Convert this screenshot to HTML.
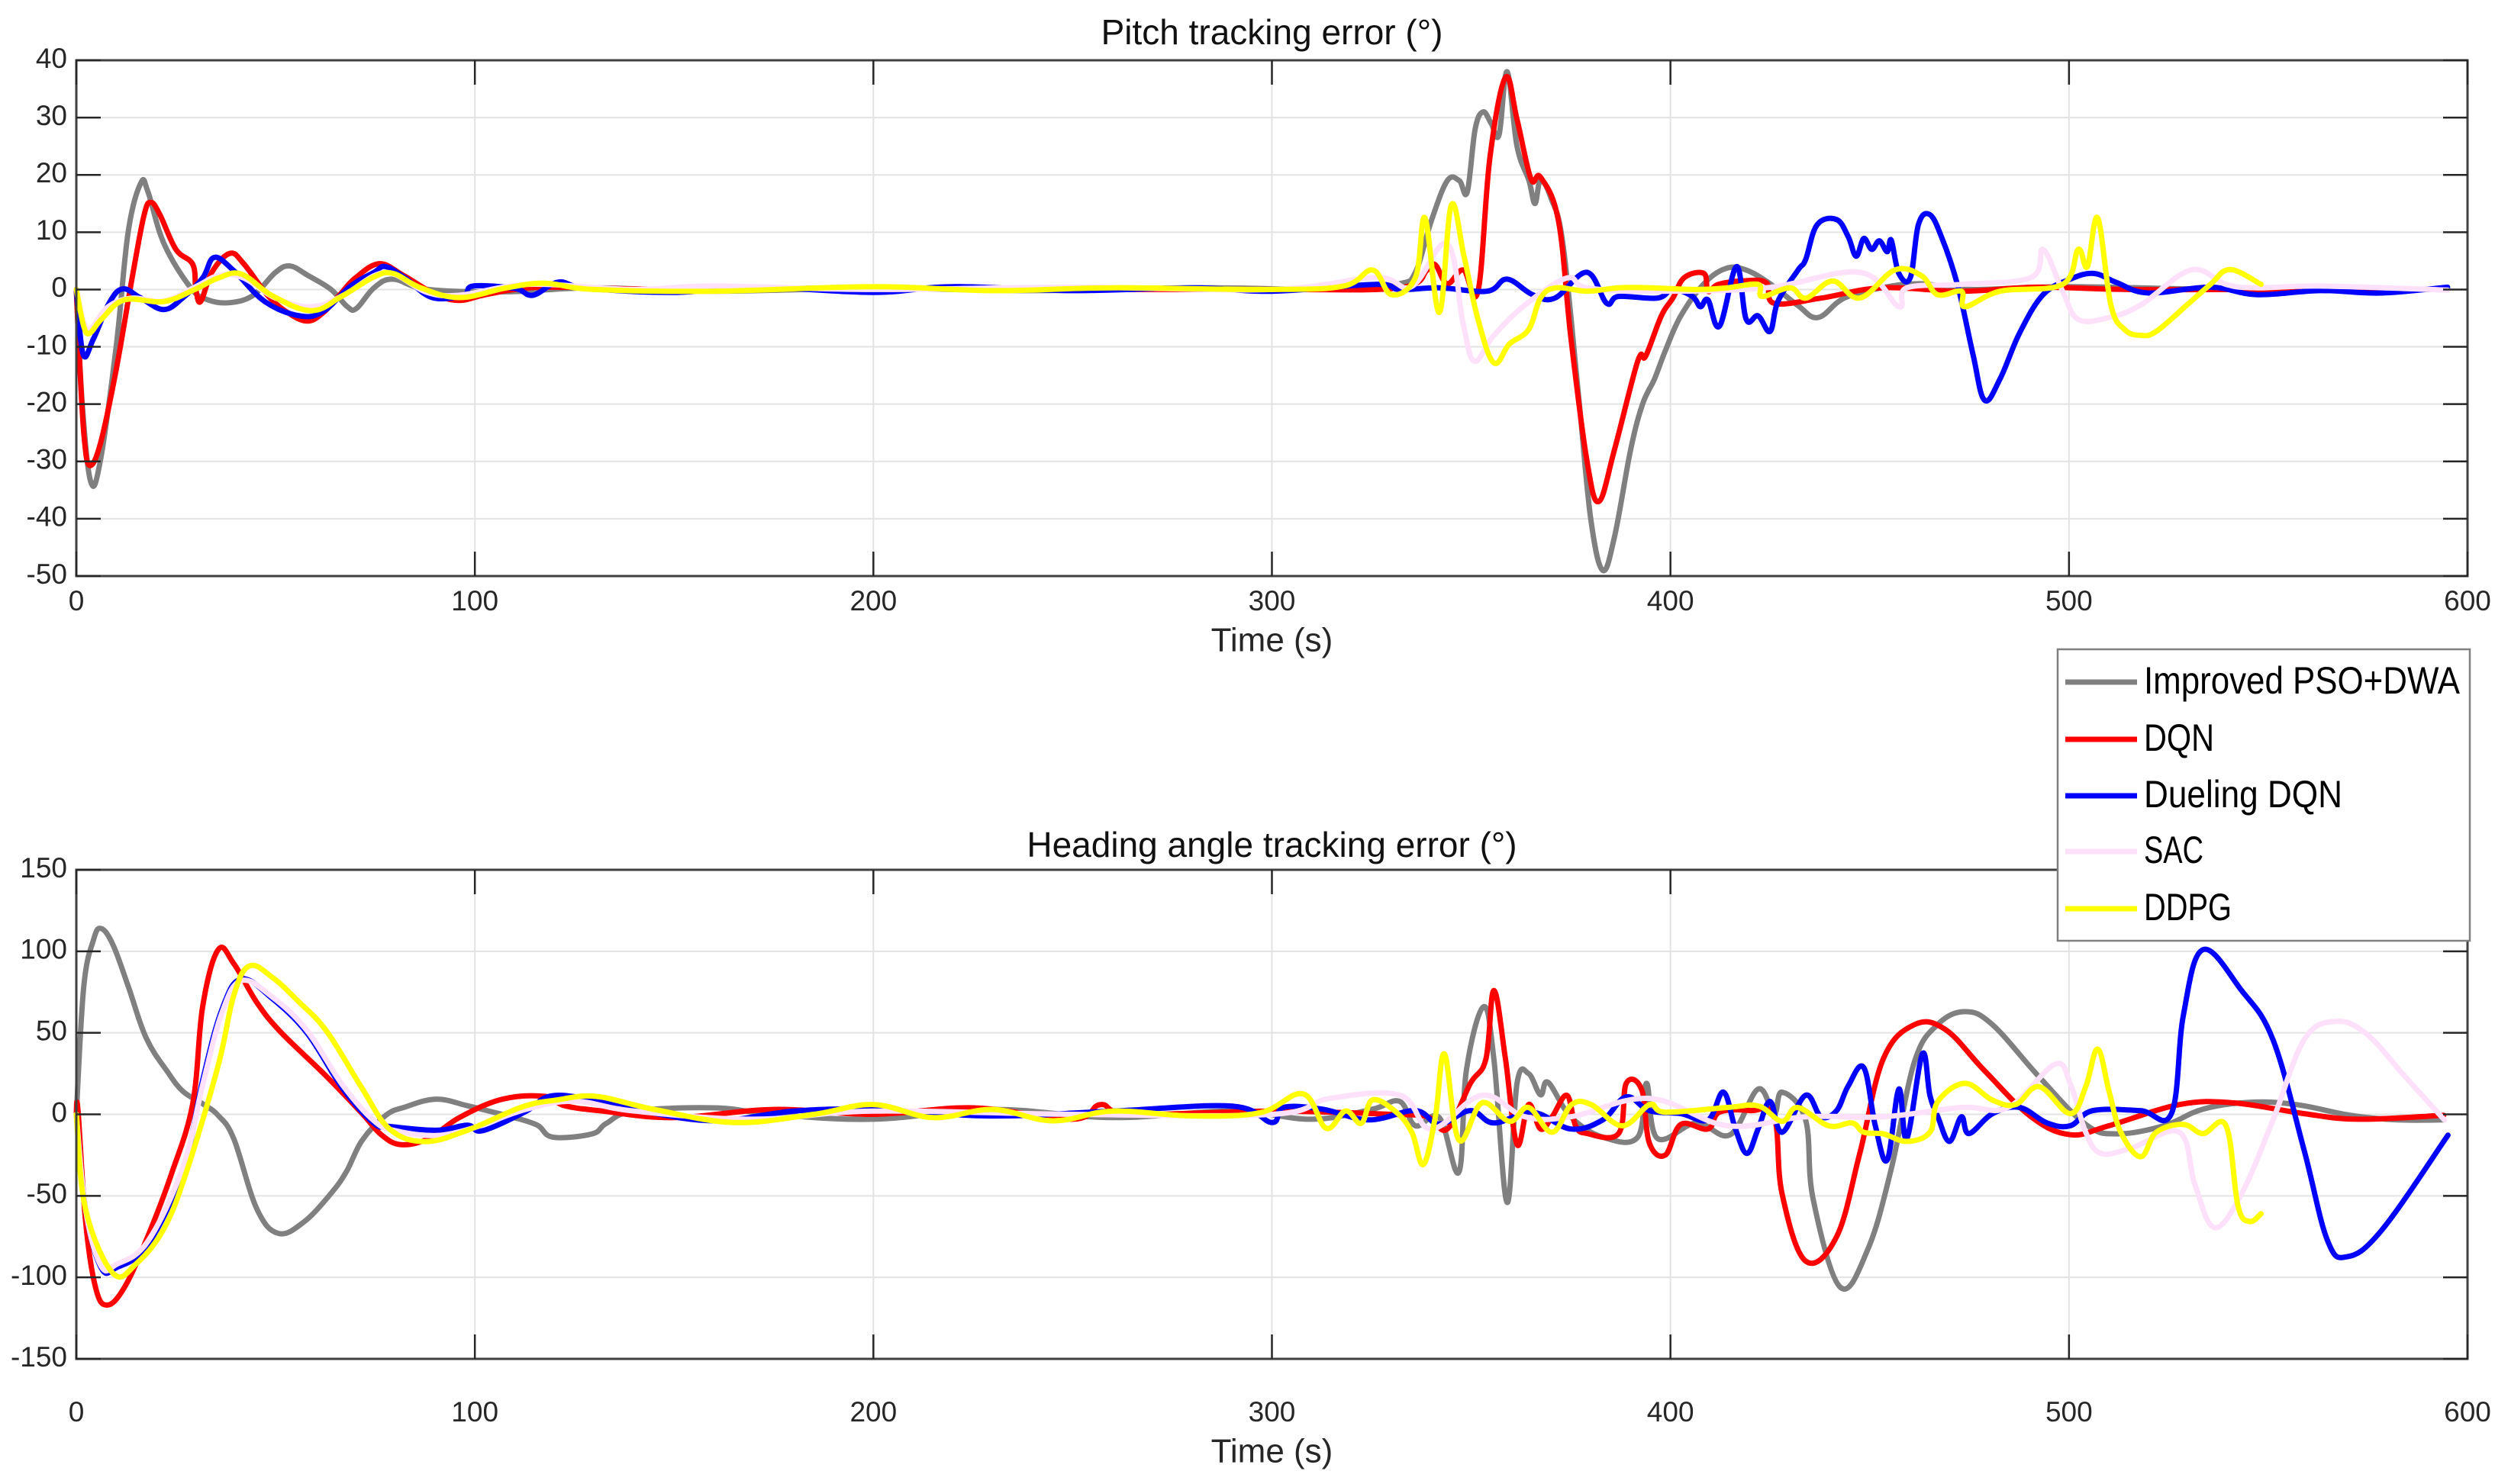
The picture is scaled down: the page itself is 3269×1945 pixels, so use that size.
<!DOCTYPE html>
<html><head><meta charset="utf-8"><style>
html,body{margin:0;padding:0;background:#fff;}
svg{display:block;font-family:"Liberation Sans",sans-serif;}
</style></head><body>
<svg id="fig" width="3269" height="1945" viewBox="0 0 3269 1945" xmlns="http://www.w3.org/2000/svg"></svg>
<script>
// ---- data (time s, error deg) ----
const xTicks = [0,100,200,300,400,500,600];
const pitchTicks = [40,30,20,10,0,-10,-20,-30,-40,-50];
const headTicks = [150,100,50,0,-50,-100,-150];
const seriesNames = ["Improved PSO+DWA","DQN","Dueling DQN","SAC","DDPG"];

const pitchGray = [[0,0],[1.5,-20],[3.6,-33.5],[6,-30],[10,-10],[13,10],[16.2,18.6],[18,17],[22,8],[28.7,0.3],[33,-1.8],[38.5,-2.3],[44.4,-1],[50,3],[53.6,4.1],[58,2.5],[63.9,0],[68,-3],[70.3,-3.3],[74.7,0.3],[79.5,1.8],[88.3,0],[108,-0.4],[130,0.3],[160,-0.3],[200,0.2],[240,-0.2],[280,0.3],[320,0],[332,1],[336,3],[340,12],[344,19],[347,19],[349,17],[351,28],[353,31],[355,29],[357,27],[359,38],[361.5,25],[364.5,19],[366,15],[367.4,19],[370,16],[373,8],[377,-19],[380,-40],[383,-49],[386,-43],[390,-28],[393,-20],[396,-15.6],[398.7,-10.7],[402.6,-4.6],[408.4,1],[414,3.7],[419,3.4],[425,1],[432,-2.8],[437,-4.9],[443.6,-1.5],[453,0.3],[463,1],[475,0],[500,0.5],[540,0],[595,0]];
const pitchRed = [[0,0],[1,-15],[2,-26],[3.3,-30.7],[6,-27],[10,-14],[14,2],[17,13],[18.75,15.2],[21,13],[25,7],[29.2,4.4],[30,0],[31.2,-2.1],[34,3],[38.5,6.3],[42,4.5],[48,-1],[53,-4],[58,-5.5],[62,-4],[66,-1],[70,2],[76,4.5],[82,2.5],[90,-0.8],[96,-1.9],[102,-1],[110,0],[120,0.4],[150,0],[200,0.3],[250,0],[300,0],[332,0.3],[339,3.4],[341,4.3],[344,1],[348,3.4],[351.7,-0.3],[354.7,23],[358.6,37],[361.5,29.7],[365,19.3],[367.4,19.6],[371.9,12],[375,-8.3],[379,-29.7],[382,-37],[386,-27.8],[391.8,-12.5],[393.8,-11.6],[397.7,-4.6],[400.6,-1.5],[403.5,2.1],[408.4,2.8],[409.4,-0.3],[412,0.9],[418,1.5],[424,1.2],[426,-2.4],[437.8,-1.5],[453,0.3],[473,-0.3],[492,0.4],[515,0],[550,0],[595,0]];
const pitchBlue = [[0,0],[1.7,-11.3],[4.3,-8.6],[8.2,-2.4],[11.6,0.1],[16,-1.4],[21.9,-3.5],[26.8,-1.4],[31.7,2],[34.6,5.6],[39.5,3.3],[47.3,-2.1],[56.1,-4.6],[62,-3.8],[68.8,0.6],[74.7,3],[77.6,4],[82.5,2],[89.3,-1.4],[97.1,-1],[99.6,0.6],[110,0.2],[114.5,-1],[121,1.3],[128,0.2],[150,-0.5],[170,0.4],[200,-0.5],[220,0.5],[250,-0.2],[280,0.3],[300,-0.3],[326,0.9],[332,0],[342,0.3],[354,-0.3],[359,1.8],[365.4,-0.9],[371,-1.5],[379,3],[384,-2.4],[387,-1.2],[396.7,-1.5],[400.6,0],[405.5,-1.2],[407.5,-3],[409.4,-1.8],[412.3,-6.4],[416.6,4],[419,-5.2],[422,-4.6],[425,-7.3],[427,-2],[432,3.4],[433.9,5.2],[436.8,11.3],[441.7,12.2],[444.6,9.2],[446.6,5.8],[448.5,8.9],[450.5,7],[452.4,8.5],[454.4,6.6],[455.4,8.6],[457.3,2.8],[460.2,2.1],[462.2,11.3],[465,13.1],[468,9.2],[472,0.9],[475.9,-11.3],[478.8,-19.3],[482.7,-15.6],[487.6,-7.6],[493.5,-0.9],[500.3,1.8],[506.2,2.8],[512,1.2],[519.9,-0.6],[535.5,0.4],[547.2,-0.9],[563,-0.2],[578.5,-0.6],[595,0.4]];
const pitchSAC = [[0,0],[2,-6],[4,-6.5],[8,-3],[14,-1.5],[22,-2],[30,0.5],[36,2.5],[42,2],[50,-1.5],[59,-3],[67,-1],[75,2.5],[80,2.6],[88,-0.5],[96,-1],[108,0.5],[118,0.9],[140,0],[160,0.6],[200,0],[250,0.4],[300,0],[326,2.1],[335,0.5],[344,8],[348,-6],[350.8,-12.5],[355.7,-8],[363.5,-2.7],[374,2],[379,0.3],[395,-0.3],[424,0.3],[447.5,3],[457.3,-3],[459.3,0.3],[473,0.9],[490.5,2.1],[493.5,7],[498.4,-0.3],[502.3,-5.2],[510,-4.9],[518,-2.7],[530.6,3.4],[539.4,0.9],[547.2,0.3],[563,0.6],[595,-0.1]];
const pitchYellow = [[0,0],[1.9,-6.5],[3.4,-7.6],[6.3,-5.2],[12.1,-1.8],[21.9,-2.1],[29.7,0],[35.6,2],[41.4,2.7],[49.2,-1.1],[59,-3.7],[66.8,-1.1],[74.7,2.2],[79.5,2.8],[86.4,0.3],[96.1,-1.4],[108,0.3],[117.7,1.1],[130,0],[160,-0.3],[200,0.5],[230,-0.2],[260,0.3],[300,0],[318,0.6],[325.3,3.4],[330,-0.9],[336,2.1],[338.4,12.5],[342,-4],[345,14.7],[348.2,5.8],[351.7,-5.2],[355.7,-12.8],[359.6,-9.5],[364.4,-7],[367.4,-1.5],[371.3,0.3],[379,-0.3],[387,0.3],[395,0.3],[406.5,0],[414.3,0.3],[422,0.9],[423,-1.2],[430,0.3],[434,-1.5],[440.7,1.5],[447.5,-1.5],[456.3,3.4],[463,2.4],[467,-0.9],[473,-0.3],[473.9,-3],[482.7,-0.3],[498.4,0.9],[502.3,7],[504.6,4],[507.2,12.5],[510.5,-2.7],[514,-7],[518,-8],[521.9,-7.3],[529.6,-2.7],[535.5,0.9],[540.4,3.5],[548.2,0.9]];

const headGray = [[0,0],[1.85,78],[4.3,107],[6.2,114],[9.2,104],[13.1,78],[17.5,47],[22.9,26],[26.8,14],[31.7,6.5],[35.6,-0.7],[39.5,-15],[45.3,-58],[50.7,-73],[57.1,-66],[63.9,-48.5],[67.8,-35],[71.7,-16],[77.6,-0.7],[82.5,4.5],[90.3,9.3],[98.1,5.3],[104,1.7],[109.8,-1.9],[115.7,-6.7],[119.6,-14],[129.4,-12],[133,-5.5],[140,2],[160,4],[175,0],[200,-3],[230,3],[260,-2],[290,2],[310,-3],[325,3],[332,8],[336,-7],[342,-2],[346.9,-35.5],[348.8,27],[353.1,66],[355.7,34],[359,-54],[361.5,19],[364.4,25],[367.4,12],[369.3,19.6],[375,-1.5],[383,-14],[391.8,-14],[394,19],[396.7,-14.7],[406.5,-5.3],[415,-12.5],[422,15.5],[426,0.4],[428,13.6],[433.9,-3.4],[435.8,-52],[442.6,-106],[449.5,-83],[455.4,-33.6],[461.2,32],[467,55],[473.9,63],[480.8,55],[492.5,23],[504.2,-6.2],[512,-12],[523.8,-7],[533.6,3.2],[545.3,7.4],[557,6],[570.7,-0.6],[582.4,-3.4],[594,-3.4]];
const headRed = [[0,0],[0.4,3],[2.3,-65],[4.8,-106],[7.7,-117],[12.1,-106],[17.9,-75],[23.8,-37],[29.2,6.5],[31.7,66],[35.6,101],[39.5,92.5],[45.3,68.6],[51.2,50.7],[62.9,23],[71.7,0.5],[76.6,-12.7],[81.5,-18.6],[88.3,-15],[96.1,-2],[106.9,9.3],[117.6,11],[122.5,5.3],[132,2],[150,-2],[175,3],[200,0],[225,4],[250,-3],[257,6],[265,0],[300,2],[330,0],[339,-1.5],[344,-9],[349.8,19],[353.7,34],[355.7,76],[358.6,34],[361.5,-18.5],[364.4,6],[367.4,-9],[370.3,-1.5],[374,11.7],[376.2,-7],[379,-11.7],[387,-11.7],[388.9,19],[392.8,15],[394.7,-17.5],[398.7,-25],[402.6,-6.2],[409.4,-9],[412.3,1.3],[420.1,2.3],[426,-1.5],[428,-48.7],[433.9,-90],[441.7,-75],[447.5,-24],[453.4,34],[461.2,55],[469,52],[478.8,26.8],[490.5,-1.5],[500.3,-12.5],[510,-7],[527.7,6],[541.4,7],[559,0.4],[572.7,-3],[594,-0.6]];
const headBlue = [[0,0],[2.3,-58],[6.2,-94],[10.1,-94],[17.9,-80],[26.8,-34],[31.7,20.8],[36.5,64],[41.4,83],[49.2,71],[58,49.5],[66.8,16],[74.7,-5.5],[78.6,-7.4],[90.3,-9.8],[98.1,-6.7],[102,-10],[112.7,1.7],[118.6,11],[127.2,10],[140,3],[160,-4],[180,2],[200,3],[230,-1],[260,2],[290,5],[300,-5],[302.9,4.2],[312.6,3.2],[324.3,-3.4],[336,2.3],[342,-6],[349.8,2.3],[355.7,-5.3],[365.4,1.3],[375,-9],[383,-3.4],[388.9,10.7],[394.7,2.3],[402.6,0.4],[409.4,-3.4],[413.3,13.6],[416.3,-9],[419.2,-24],[422,-9],[425,7.9],[428,-11],[433.9,11.7],[437.8,-1.5],[441.7,2.3],[444.6,17.4],[448.5,28.7],[451.4,-7],[454.4,-28],[457.3,15.5],[459.3,-15],[463.2,37],[465.1,11.7],[467.1,-1.5],[470,-16.6],[473,-1.5],[474.9,-11.8],[480.8,0.4],[487.6,4.2],[494.5,-5.3],[500.3,-7],[506,2.3],[517.9,2.3],[525.7,0.4],[528.7,60.8],[533.6,101],[543.3,76],[551.2,45.7],[559,-22],[564.8,-77],[569.7,-87.4],[578.5,-71],[595.1,-12.8]];
const headSAC = [[0,0],[2.3,-58],[6.2,-93],[10.1,-92],[17.9,-78],[26.8,-32],[31.7,18],[36.5,62],[41.4,82],[49.2,72],[58,51],[66.8,18],[74.7,-4],[80,-10],[90.3,-13],[100,-8],[112.7,3],[125,8],[140,2],[170,-3],[200,2],[250,0],[300,0],[314.6,9.8],[332.2,11.7],[340,-9],[352.7,11.7],[363.5,-1.5],[375,-1.5],[394.7,9.8],[414.3,-7],[433.9,-1.5],[453.4,-1.5],[473,4.2],[484.7,4.2],[496.4,30.6],[500.3,19],[504.2,-11],[508.1,-24],[515.9,-20.4],[527.7,-11],[531.6,-43],[536.5,-69.4],[543.3,-48.7],[551.2,-3.4],[559,45.7],[566.8,57],[574.6,49.4],[584.4,23],[594.2,-3.4]];
const headYellow = [[0,0],[2.3,-58],[9.2,-97.5],[15.1,-91.5],[22,-70],[27.8,-34],[35.6,30],[39.5,73],[43.4,91],[49.2,84],[56,68.6],[62.9,50.7],[71.7,16],[78.6,-9],[87.4,-16.7],[98.1,-9.8],[111.8,4.5],[120.6,8.8],[130.4,11],[145,3],[165,-5],[185,0],[200,6],[215,-2],[230,3],[245,-4],[260,2],[280,-1],[297,1],[307.8,12.6],[313.6,-8.5],[318.5,2.1],[322.4,-5.5],[325.3,8.9],[331.2,1.3],[335.1,-11],[338,-30.8],[341,-1.5],[343.3,37],[346.9,-15.7],[352.7,7],[359.6,-4.3],[364.4,4.2],[370.3,-11],[375.2,6],[380.1,6],[387.9,-7],[394.8,6],[398.7,1.3],[414.3,4.2],[422.1,5.1],[428,-4.3],[431.9,4.2],[439.7,-7],[445.6,-5.3],[448.5,-11],[453.4,-12],[459.3,-16.6],[465.1,-11],[467.1,7.9],[473.9,19],[480.8,8.7],[486.6,6],[492.5,17],[500.3,0.4],[504.2,17],[507.2,40],[510.1,13.6],[513,-11],[518,-26],[521.9,-11],[528.7,-6.2],[533.6,-11.8],[539.4,-7],[542.4,-56],[545.3,-65.7],[548.2,-61]];

// ---- drawing ----
const NS = "http://www.w3.org/2000/svg";
const svg = document.getElementById("fig");
const X0 = 100, X1 = 3233;
const colors = ["#808080","#ff0000","#0000ff","#fde0fa","#ffff00"];
function xs(t){ return X0 + (t - 0) / 600 * (X1 - X0); }
function mk(tag, attrs, parent){
  const e = document.createElementNS(NS, tag);
  for (const k in attrs) e.setAttribute(k, attrs[k]);
  (parent || svg).appendChild(e);
  return e;
}
function txt(s, x, y, size, anchor, parent){
  const e = mk("text", {x:x, y:y, "font-size":size, "text-anchor":anchor, fill:"#262626", "dominant-baseline":"middle"}, parent);
  e.textContent = s;
  return e;
}
function smoothPath(P){
  let d = "M" + P[0][0].toFixed(1) + "," + P[0][1].toFixed(1);
  for (let i = 0; i < P.length - 1; i++){
    const p0 = P[i-1] || P[i], p1 = P[i], p2 = P[i+1], p3 = P[i+2] || p2;
    const k = 0.18;
    const c1x = p1[0] + (p2[0]-p0[0])*k, c1y = p1[1] + (p2[1]-p0[1])*k;
    const c2x = p2[0] - (p3[0]-p1[0])*k, c2y = p2[1] - (p3[1]-p1[1])*k;
    d += " C" + c1x.toFixed(1)+","+c1y.toFixed(1)+" "+c2x.toFixed(1)+","+c2y.toFixed(1)+" "+p2[0].toFixed(1)+","+p2[1].toFixed(1);
  }
  return d;
}
function panel(name, top, bottom, ymin, ymax, ticks, title, titleY, labelY, tickLabelY, series){
  const g = mk("g", {});
  
  
  const ys = v => bottom - (v - ymin) / (ymax - ymin) * (bottom - top);
  xTicks.forEach(t => { if (t > 0 && t < 600) mk("line", {x1:xs(t), x2:xs(t), y1:top, y2:bottom, stroke:"#e3e3e3", "stroke-width":2}, g); });
  ticks.forEach(v => { if (v > ymin && v < ymax) mk("line", {x1:X0, x2:X1, y1:ys(v), y2:ys(v), stroke:"#e3e3e3", "stroke-width":2}, g); });
  series.forEach((s, i) => {
    const P = s.map(p => [xs(p[0]), ys(p[1])]);
    const pl = mk("path", {d:smoothPath(P), fill:"none", stroke:colors[i], "stroke-width":7, "stroke-linejoin":"round", "stroke-linecap":"round"}, g);
    
    
  });
  mk("rect", {x:X0, y:top, width:X1-X0, height:bottom-top, fill:"none", stroke:"#404040", "stroke-width":3}, g);
  xTicks.forEach(t => {
    mk("line", {x1:xs(t), x2:xs(t), y1:bottom, y2:bottom-32, stroke:"#262626", "stroke-width":2.5}, g);
    mk("line", {x1:xs(t), x2:xs(t), y1:top, y2:top+32, stroke:"#262626", "stroke-width":2.5}, g);
    const l = txt(String(t), xs(t), tickLabelY, 37, "middle", g);
    
    
  });
  ticks.forEach(v => {
    mk("line", {x1:X0, x2:X0+32, y1:ys(v), y2:ys(v), stroke:"#262626", "stroke-width":2.5}, g);
    mk("line", {x1:X1, x2:X1-32, y1:ys(v), y2:ys(v), stroke:"#262626", "stroke-width":2.5}, g);
    const l = txt(String(v), 88, ys(v), 37, "end", g);
    
    
  });
  const tt = txt(title, (X0+X1)/2, titleY, 46, "middle", g);
  tt.setAttribute('fill', '#111');
  
  
  const xl = txt("Time (s)", (X0+X1)/2, labelY, 44, "middle", g);
  
  
}
panel("pitch-chart", 79, 755, -50, 40, pitchTicks, "Pitch tracking error (°)", 46, 842, 790,
  [pitchGray, pitchRed, pitchBlue, pitchSAC, pitchYellow]);
panel("heading-chart", 1140, 1781, -150, 150, headTicks, "Heading angle tracking error (°)", 1111, 1905, 1853,
  [headGray, headRed, headBlue, headSAC, headYellow]);

// legend
const lg = mk("g", {});


mk("rect", {x:2696, y:851, width:540, height:382, fill:"#fff", stroke:"#808080", "stroke-width":2.5}, lg);
const legY = [894, 969, 1043, 1116, 1191];
const legW = [414, 92, 260, 78, 115];
seriesNames.forEach((n, i) => {
  const ln = mk("line", {x1:2706, x2:2800, y1:legY[i], y2:legY[i], stroke:colors[i], "stroke-width":7}, lg);
  
  
  const t = txt(n, 2809, legY[i] + 2, 50, "start", lg);
  t.setAttribute('fill', '#000');
  t.setAttribute('textLength', legW[i]);
  t.setAttribute('lengthAdjust', 'spacingAndGlyphs');
  
  
});
</script>
</body></html>
